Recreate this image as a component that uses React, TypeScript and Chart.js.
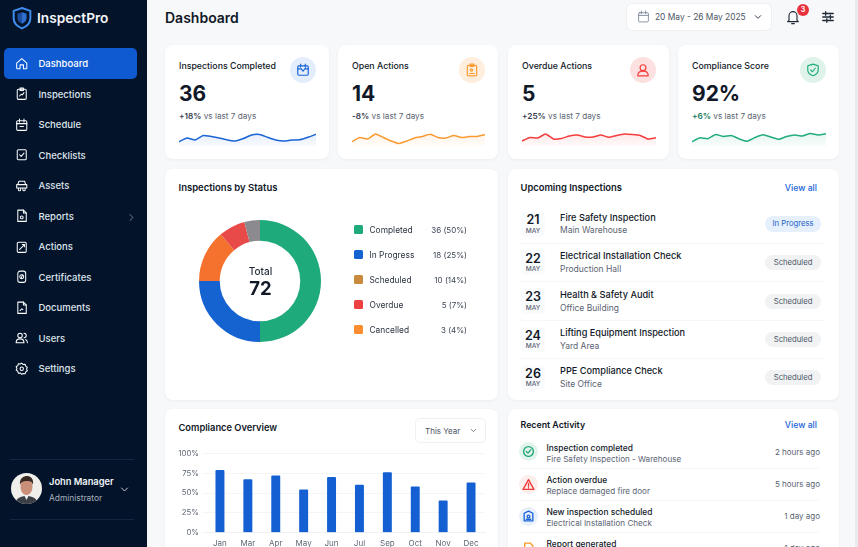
import { useEffect, useRef } from "react"
import Chart from "chart.js/auto"

const FONT = "Inter, 'Noto Sans', sans-serif"

const navItems = ["Dashboard", "Inspections", "Schedule", "Checklists", "Assets", "Reports", "Actions", "Certificates", "Documents", "Users", "Settings"]

const statTitles = ["Inspections Completed", "Open Actions", "Overdue Actions", "Compliance Score"]
const statValues = ["36", "14", "5", "92%"]
const statDeltas = ["+18%", "-8%", "+25%", "+6%"]
const statColors = ["#1a64d6", "#fb9a32", "#f53d3d", "#22ad7d"]
const sparkLabels = ["1", "2", "3", "4", "5", "6", "7", "8", "9", "10", "11", "12", "13", "14", "15", "16", "17", "18"]
const sparkCompleted = [4.3, 8, 6, 10.5, 9.5, 8, 6, 5, 7.5, 11, 11.5, 8.7, 6, 5, 6, 6.3, 8.7, 11.7]
const sparkOpen = [4.3, 8.5, 7, 12, 8.5, 5, 2.5, 5, 8, 9.5, 11.7, 8.5, 8, 10.5, 8.5, 9.5, 9.5, 11.3]
const sparkOverdue = [5, 8.5, 8, 12, 7, 7.5, 10, 11, 9, 9, 11, 8.7, 10.5, 12, 11.5, 10.5, 7, 8.3]
const sparkCompliance = [4.3, 8.2, 7.3, 11.5, 9.5, 10.5, 7, 4.7, 8.5, 11.3, 9, 6.7, 9.5, 11, 10, 12.5, 11, 12.3]

const statusLabels = ["Completed", "In Progress", "Scheduled", "Overdue", "Cancelled"]
const statusCounts = [36, 18, 10, 5, 3]
const statusText = ["36 (50%)", "18 (25%)", "10 (14%)", "5 (7%)", "3 (4%)"]
const sliceColors = ["#1faa7b", "#1463d0", "#f4712e", "#e84a4a", "#8b8b8f"]
const legendColors = ["#1faa7b", "#1463d0", "#c98a3e", "#ee4040", "#fb8c2f"]

const months = ["Jan", "Mar", "Apr", "May", "Jun", "Jul", "Sep", "Oct", "Nov", "Dec"]
const compliance = [79, 67, 72, 54, 70, 60, 76, 58, 40, 63]

const upDays = ["21", "22", "23", "24", "26"]
const upTitles = ["Fire Safety Inspection", "Electrical Installation Check", "Health & Safety Audit", "Lifting Equipment Inspection", "PPE Compliance Check"]
const upPlaces = ["Main Warehouse", "Production Hall", "Office Building", "Yard Area", "Site Office"]
const upStates = ["In Progress", "Scheduled", "Scheduled", "Scheduled", "Scheduled"]

const actTitles = ["Inspection completed", "Action overdue", "New inspection scheduled", "Report generated"]
const actSubs = ["Fire Safety Inspection - Warehouse", "Replace damaged fire door", "Electrical Installation Check", ""]
const actTimes = ["2 hours ago", "5 hours ago", "1 day ago", "1 day ago"]

function T({ x, y, s, w = 400, c = "#111827", right, children }: any) {
  const pos: any = right ? { right: 858 - x } : { left: x }
  return (
    <span style={{ position: "absolute", ...pos, top: y, transform: "translateY(-50%)", fontSize: s, fontWeight: w, color: c, whiteSpace: "nowrap", lineHeight: 1 }}>
      {children}
    </span>
  )
}

function Box({ x, y, w, h, r = 8, bg = "#fff", style }: any) {
  return <div style={{ position: "absolute", left: x, top: y, width: w, height: h, borderRadius: r, background: bg, ...style }} />
}

function Icon({ x, y, size = 14, color = "#fff", sw = 1.8, children }: any) {
  return (
    <svg style={{ position: "absolute", left: x - size / 2, top: y - size / 2 }} width={size} height={size} viewBox="0 0 24 24" fill="none" stroke={color} strokeWidth={sw} strokeLinecap="round" strokeLinejoin="round">
      {children}
    </svg>
  )
}

const navIcons = [
  <path d="M3 11l9-8 9 8v9a1 1 0 0 1-1 1h-5v-7H9v7H4a1 1 0 0 1-1-1z" />,
  <><rect x="4" y="4" width="16" height="18" rx="2" /><path d="M9 2h6v4H9zM8 16l3-3 2 1 3-4" /></>,
  <><rect x="3" y="5" width="18" height="17" rx="2" /><path d="M8 2v5M16 2v5M3 10h18M9 15h6" /></>,
  <><rect x="4" y="3" width="16" height="18" rx="2" /><path d="M8 12l3 3 5-6" /></>,
  <><path d="M5 10l2-6h10l2 6M3 10h18v6H3zM6 16v3a2 2 0 0 0 4 0v-3M14 16v3a2 2 0 0 0 4 0v-3" /></>,
  <><path d="M5 2h10l5 5v15H5z" /><path d="M15 2v5h5" /><circle cx="12" cy="15" r="2.5" /></>,
  <><rect x="4" y="4" width="16" height="18" rx="2" /><path d="M8 17l8-8M13 8h4v4" /></>,
  <><rect x="5" y="2" width="14" height="20" rx="4" /><circle cx="12" cy="12" r="3.5" /><path d="M11 15l2-6" /></>,
  <><path d="M5 2h10l5 5v15H5z" /><path d="M15 2v5h5M9 17l3-3 2 1" /></>,
  <><circle cx="9" cy="8" r="4" /><path d="M2 21c0-4 3-7 7-7s7 3 7 7zM16 4a4 4 0 0 1 0 8M19 15c2 1 3 3 3 6" /></>,
  <><circle cx="12" cy="12" r="3" /><path d="M12 2l2.5 2.5 3.5-.5 1 3.5 3 2-1.5 3 1.5 3-3 2-1 3.5-3.5-.5L12 22l-2.5-2.5-3.5.5-1-3.5-3-2 1.5-3-1.5-3 3-2 1-3.5 3.5.5z" /></>,
]

const statIcons = [
  <><rect x="3" y="5" width="18" height="16" rx="2" /><path d="M8 2v5M16 2v5M3 10h6M15 10h6M9 10l3 4 4-5" /></>,
  <><rect x="4" y="4" width="16" height="18" rx="2" /><path d="M9 2h6v4H9z" /><circle cx="11" cy="12" r="2" /><path d="M8 18h8" /></>,
  <><circle cx="12" cy="8" r="5" /><path d="M3 22c0-5 4-8 9-8s9 3 9 8z" /></>,
  <><path d="M12 2l9 3v7c0 5-4 8-9 10-5-2-9-5-9-10V5z" /><path d="M8 12l3 3 5-6" /></>,
]
const statTints = ["#e3edfb", "#ffeedd", "#fde0e0", "#dff3ea"]
const statLefts = [165, 338, 508, 678]
const statWidths = [164, 160, 161, 161]
const sparkData = [sparkCompleted, sparkOpen, sparkOverdue, sparkCompliance]
const deltaColors = ["#374151", "#374151", "#374151", "#15795a"]

function Spark({ left, width, values, color }: any) {
  const ref = useRef<HTMLCanvasElement>(null)
  useEffect(() => {
    if (!ref.current) return
    const chart = new Chart(ref.current, {
      type: "line",
      data: {
        labels: sparkLabels,
        datasets: [{
          data: values,
          borderColor: color,
          borderWidth: 1.5,
          pointRadius: 0,
          tension: 0.15,
          fill: "start",
          backgroundColor: (ctx: any) => {
            const g = ctx.chart.ctx.createLinearGradient(0, 0, 0, 16)
            g.addColorStop(0, color + "22")
            g.addColorStop(1, color + "08")
            return g
          },
        }],
      },
      options: {
        animation: false,
        responsive: false,
        plugins: { legend: { display: false }, tooltip: { enabled: false } },
        layout: { padding: 0 },
        scales: {
          x: { display: false },
          y: { display: false, min: 0, max: 16 },
        },
      },
    })
    return () => chart.destroy()
  }, [])
  return <canvas ref={ref} width={width} height={16} style={{ position: "absolute", left, top: 130, width, height: 16 }} />
}

function Donut() {
  const ref = useRef<HTMLCanvasElement>(null)
  useEffect(() => {
    if (!ref.current) return
    const chart = new Chart(ref.current, {
      type: "doughnut",
      data: { labels: statusLabels, datasets: [{ data: statusCounts, backgroundColor: sliceColors, borderWidth: 0 }] },
      options: {
        animation: false,
        responsive: false,
        cutout: "66%",
        plugins: { legend: { display: false }, tooltip: { enabled: false } },
      },
    })
    return () => chart.destroy()
  }, [])
  return <canvas ref={ref} width={122} height={122} style={{ position: "absolute", left: 199, top: 220, width: 122, height: 122 }} />
}

function Bars() {
  const ref = useRef<HTMLCanvasElement>(null)
  useEffect(() => {
    if (!ref.current) return
    const chart = new Chart(ref.current, {
      type: "bar",
      data: {
        labels: months,
        datasets: [{ data: compliance, backgroundColor: "#1460d2", barThickness: 8.3, borderRadius: 1 }],
      },
      options: {
        animation: false,
        responsive: false,
        layout: { padding: { top: 6, right: 5, bottom: 0, left: 0 } },
        plugins: { legend: { display: false }, tooltip: { enabled: false } },
        scales: {
          x: {
            grid: { display: false, drawTicks: false, tickLength: 0 },
            border: { color: "#eef0f3" },
            ticks: { color: "#5f6775", font: { family: FONT, size: 8 }, padding: 6, maxRotation: 0, autoSkip: false },
          },
          y: {
            min: 0,
            max: 100,
            grid: { color: "#f4f5f7", tickLength: 4 },
            border: { display: false },
            ticks: { stepSize: 25, color: "#5f6775", font: { family: FONT, size: 7.8 }, padding: 3, callback: (v: any) => v + "%" },
            afterFit: (s: any) => { s.width = 36 },
          },
        },
      },
    })
    return () => chart.destroy()
  }, [])
  return <canvas ref={ref} width={320} height={108} style={{ position: "absolute", left: 170, top: 446, width: 320, height: 108 }} />
}

function Avatar() {
  return (
    <svg style={{ position: "absolute", left: 11, top: 473 }} width={31} height={31} viewBox="0 0 31 31">
      <clipPath id="av"><circle cx="15.5" cy="15.5" r="15.5" /></clipPath>
      <g clipPath="url(#av)">
        <rect width="31" height="31" fill="#f1efec" />
        <path d="M4 31c1-6 6-8 11.5-8S26 25 27 31z" fill="#3b3f46" />
        <path d="M13 22h5l-2.5 5z" fill="#eee" />
        <ellipse cx="15.5" cy="14" rx="6" ry="8" fill="#c98f78" />
        <path d="M9 12c-1-7 4-9 7-9s7 2 6 9c-1-3-2-4-6-4s-6 1-7 4z" fill="#3a2a22" />
      </g>
    </svg>
  )
}

export default function App() {
  const rowYs = [224, 262.7, 301.3, 339.5, 377.5]
  const actYs = [453, 485, 517.5, 549]
  return (
    <div style={{ position: "fixed", inset: 0, width: 858, height: 547, overflow: "hidden", background: "#f7f8fa", fontFamily: FONT }}>
      <style>{`body{margin:0}`}</style>

      {/* sidebar */}
      <Box x={0} y={0} w={146.5} h={547} r={0} bg="#03142a" />
      <svg style={{ position: "absolute", left: 12, top: 6 }} width={20} height={24} viewBox="0 0 24 28" fill="none">
        <path d="M12 2l10 3.5v9c0 6-4.5 9.5-10 12-5.5-2.5-10-6-10-12v-9z" stroke="#3f8df0" strokeWidth="2.4" />
        <path d="M12 7l5.5 2v5c0 3.5-2.5 5.5-5.5 7z" fill="#2f6fd0" />
        <path d="M12 7l-5.5 2v5c0 3.5 2.5 5.5 5.5 7z" fill="#1d4f9e" />
      </svg>
      <T x={37} y={19} s={13.7} w={600} c="#f4f6fa">InspectPro</T>
      <Box x={4} y={48} w={133} h={31} r={5} bg="#0f5ad0" />
      {navItems.map((n, i) => (
        <div key={n}>
          <Icon x={22} y={63.5 + i * 30.5} size={13.5}>{navIcons[i]}</Icon>
          <T x={38.5} y={64 + i * 30.5} s={9.5} w={500} c={i === 0 ? "#fff" : "#dfe4ec"}>{n}</T>
        </div>
      ))}
      <Icon x={131} y={217} size={9} color="#77808f" sw={2.5}><path d="M8 4l8 8-8 8" /></Icon>
      <Box x={10} y={459} w={124} h={1} r={0} bg="#12263f" />
      <Box x={10} y={519} w={124} h={1} r={0} bg="#12263f" />
      <Avatar />
      <T x={49} y={482} s={9.3} w={600} c="#f2f4f8">John Manager</T>
      <T x={49} y={498} s={8.4} c="#a8b0bc">Administrator</T>
      <Icon x={124.5} y={489} size={9} color="#cfd5de" sw={2.5}><path d="M4 8l8 8 8-8" /></Icon>

      {/* header */}
      <T x={165} y={17.5} s={14} w={600}>Dashboard</T>
      <Box x={627} y={4} w={144} h={26} r={5} style={{ boxShadow: "0 0 0 1px #eef0f3" }} />
      <Icon x={643.5} y={16.5} size={13} color="#7b8494" sw={1.6}>
        <rect x="3" y="5" width="18" height="17" rx="2" /><path d="M8 2v5M16 2v5M3 10h18" />
      </Icon>
      <T x={655} y={16.5} s={8.4} c="#4b5563">20 May - 26 May 2025</T>
      <Icon x={758} y={16.5} size={8} color="#374151" sw={3}><path d="M4 8l8 8 8-8" /></Icon>
      <Icon x={793} y={17} size={16} color="#1f2937" sw={1.7}>
        <path d="M6 17V10a6 6 0 0 1 12 0v7l2 2H4zM10 22h4" />
      </Icon>
      <Box x={797} y={3.5} w={12} h={12} r={6} bg="#e8323c" />
      <div style={{ position: "absolute", left: 797, top: 3.5, width: 12, height: 12, textAlign: "center", fontSize: 7, fontWeight: 700, lineHeight: "12px", color: "#fff" }}>3</div>
      <Icon x={828} y={17} size={14} color="#1f2937" sw={2.2}>
        <path d="M3 6h18M3 12h18M3 18h18M8 3v6M16 9v6M10 15v6" />
      </Icon>
      <Box x={855} y={0} w={3} h={547} r={0} bg="#e9eaec" />

      {/* stat cards */}
      {statTitles.map((t, i) => (
        <div key={t}>
          <Box x={statLefts[i]} y={45} w={statWidths[i]} h={114} style={{ boxShadow: "0 1px 3px rgba(20,30,50,.05)" }} />
          <T x={statLefts[i] + 14} y={65.5} s={8.8} w={500}>{t}</T>
          <T x={statLefts[i] + 14} y={93} s={21} w={700}>{statValues[i]}</T>
          <span style={{ position: "absolute", left: statLefts[i] + 14, top: 116, transform: "translateY(-50%)", fontSize: 8.2, lineHeight: 1, whiteSpace: "nowrap", color: "#5b6472" }}>
            <b style={{ fontWeight: 600, color: deltaColors[i] }}>{statDeltas[i]}</b> vs last 7 days
          </span>
          <Box x={statLefts[i] + statWidths[i] - 39.5} y={57} w={26} h={26} r={13} bg={statTints[i]} />
          <Icon x={statLefts[i] + statWidths[i] - 26.5} y={70} size={14} color={statColors[i]} sw={2}>{statIcons[i]}</Icon>
          <Spark left={statLefts[i] + 14} width={statWidths[i] - 27} values={sparkData[i]} color={statColors[i]} />
        </div>
      ))}

      {/* inspections by status */}
      <Box x={165} y={169} w={333} h={231} style={{ boxShadow: "0 1px 3px rgba(20,30,50,.05)" }} />
      <T x={178.5} y={188} s={9.5} w={600}>Inspections by Status</T>
      <Donut />
      <div style={{ position: "absolute", left: 240, width: 41, top: 265.5, textAlign: "center", fontSize: 10, fontWeight: 500, lineHeight: 1, color: "#1f2937" }}>Total</div>
      <div style={{ position: "absolute", left: 240, width: 41, top: 278.5, textAlign: "center", fontSize: 18.5, fontWeight: 700, lineHeight: 1, color: "#111827" }}>72</div>
      {statusLabels.map((l, i) => (
        <div key={l}>
          <Box x={354} y={225 + i * 25.1} w={8.5} h={8.5} r={1.5} bg={legendColors[i]} />
          <T x={369.5} y={229.5 + i * 25.1} s={8.4} c="#2b3340">{l}</T>
          <T x={467} right y={229.5 + i * 25.1} s={8} c="#3f4856">{statusText[i]}</T>
        </div>
      ))}

      {/* upcoming */}
      <Box x={508} y={169} w={331} h={231} style={{ boxShadow: "0 1px 3px rgba(20,30,50,.05)" }} />
      <T x={520.5} y={188} s={9.4} w={600}>Upcoming Inspections</T>
      <T x={817} right y={187.7} s={8.7} w={500} c="#1a64d6">View all</T>
      {upTitles.map((t, i) => (
        <div key={t}>
          <Box x={521} y={rowYs[i] - 12.5} w={24} h={25} r={4} bg="#fafbfc" />
          <div style={{ position: "absolute", left: 518, width: 30, top: rowYs[i] - 10, textAlign: "center", fontSize: 12.5, fontWeight: 600, lineHeight: 1, color: "#111827" }}>{upDays[i]}</div>
          <div style={{ position: "absolute", left: 518, width: 30, top: rowYs[i] + 3.5, textAlign: "center", fontSize: 6.5, fontWeight: 500, lineHeight: 1, color: "#5b6472" }}>MAY</div>
          <T x={560} y={rowYs[i] - 6.3} s={9.2} w={500}>{t}</T>
          <T x={560} y={rowYs[i] + 6.3} s={8.5} c="#5b6472">{upPlaces[i]}</T>
          <div style={{ position: "absolute", left: 765.3, width: 55.5, top: rowYs[i] - 7.8, height: 15.6, borderRadius: 8, background: i === 0 ? "#e6f0fd" : "#f1f2f4", color: i === 0 ? "#1a5dc8" : "#4b5563", fontSize: 7.7, lineHeight: "15.6px", textAlign: "center" }}>{upStates[i]}</div>
          {i < 4 && <Box x={520} y={rowYs[i] + 18.5} w={305} h={1} r={0} bg="#f6f7f8" />}
        </div>
      ))}

      {/* compliance overview */}
      <Box x={165} y={409} w={333} h={150} style={{ boxShadow: "0 1px 3px rgba(20,30,50,.05)" }} />
      <T x={178.5} y={427.5} s={9.3} w={600}>Compliance Overview</T>
      <Box x={416} y={419} w={69} h={23} r={4} style={{ boxShadow: "0 0 0 1px #eef0f3" }} />
      <T x={425} y={430.5} s={8} c="#4b5563">This Year</T>
      <Icon x={473} y={430.5} size={7} color="#6b7280" sw={3}><path d="M4 8l8 8 8-8" /></Icon>
      <Bars />

      {/* recent activity */}
      <Box x={508} y={409} w={331} h={150} style={{ boxShadow: "0 1px 3px rgba(20,30,50,.05)" }} />
      <T x={520.5} y={425} s={8.8} w={600}>Recent Activity</T>
      <T x={817} right y={425} s={8.7} w={500} c="#1a64d6">View all</T>
      {actTitles.map((t, i) => (
        <div key={t}>
          <T x={546.5} y={actYs[i] - 5.5} s={8.4} w={500}>{t}</T>
          {actSubs[i] && <T x={546.5} y={actYs[i] + 5.5} s={8.1} c="#5b6472">{actSubs[i]}</T>}
          <T x={820} right y={actYs[i] - 1.5} s={8} c="#5b6472">{actTimes[i]}</T>
          {i < 3 && <Box x={520} y={actYs[i] + 14.5} w={300} h={1} r={0} bg="#f6f7f8" />}
        </div>
      ))}
      <Box x={519} y={442} w={19} h={19} r={9.5} bg="#e3f4ec" />
      <Icon x={528.5} y={451.5} size={13} color="#1fa876" sw={2.5}><circle cx="12" cy="12" r="9" /><path d="M8 12l3 3 5-6" /></Icon>
      <Box x={519} y={475} w={19} h={19} r={9.5} bg="#fdeeee" />
      <Icon x={528.5} y={484.5} size={13} color="#f03a3a" sw={2.5}><path d="M12 3l10 18H2z" /><path d="M12 10v5M12 18v.5" /></Icon>
      <Box x={519} y={506.5} w={19} h={19} r={9.5} bg="#e8f0fc" />
      <Icon x={528.5} y={516} size={13} color="#1a64d6" sw={2.5}><path d="M12 2l8 4v14H4V6z" /><circle cx="12" cy="12" r="2.5" /><path d="M8 17h8" /></Icon>
      <Icon x={528.5} y={548} size={13} color="#f79a25" sw={2.5}><path d="M5 2h10l5 5v15H5z" /></Icon>
    </div>
  )
}
